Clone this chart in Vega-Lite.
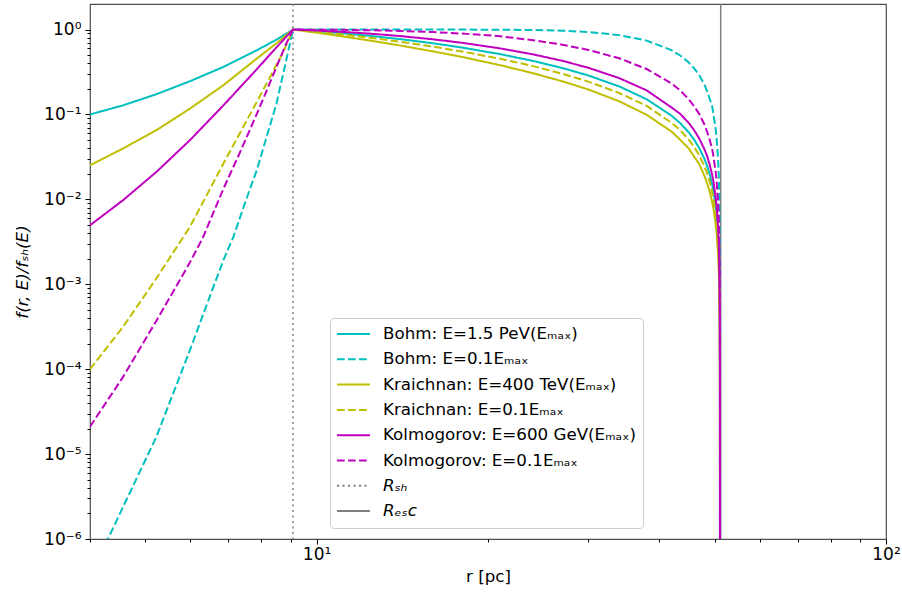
{
  "$schema": "https://vega.github.io/schema/vega-lite/v6.json",
  "width": 796,
  "height": 535,
  "autosize": {"type": "none"},
  "padding": {"left": 90, "top": 4, "right": 16, "bottom": 60},
  "background": "white",
  "config": {
    "font": "DejaVu Sans",
    "view": {"stroke": "#4d4d4d", "strokeWidth": 1.2}
  },
  "datasets": {
    "lines": [
      {"s": "Rsh", "r": 9.09},
      {"s": "Resc", "r": 51.25}
    ],
    "curves": [
      {"s":"B1","r":4,"f":0.1},{"s":"B1","r":4.57,"f":0.128},{"s":"B1","r":5.23,"f":0.173},{"s":"B1","r":5.99,"f":0.246},{"s":"B1","r":6.86,"f":0.363},{"s":"B1","r":7.85,"f":0.57},{"s":"B1","r":8.5,"f":0.76},{"s":"B1","r":9.09,"f":1},
      {"s":"B1","r":10,"f":0.957},{"s":"B1","r":11,"f":0.909},{"s":"B1","r":12.5,"f":0.839},{"s":"B1","r":14,"f":0.772},{"s":"B1","r":16,"f":0.69},{"s":"B1","r":18,"f":0.614},{"s":"B1","r":21,"f":0.514},{"s":"B1","r":24,"f":0.427},{"s":"B1","r":27,"f":0.353},{"s":"B1","r":30,"f":0.288},{"s":"B1","r":34,"f":0.214},{"s":"B1","r":38,"f":0.151},{"s":"B1","r":42,"f":0.097},{"s":"B1","r":43.5,"f":0.0791},{"s":"B1","r":45,"f":0.062},{"s":"B1","r":46,"f":0.0508},{"s":"B1","r":47,"f":0.04},{"s":"B1","r":48,"f":0.0299},{"s":"B1","r":48.5,"f":0.0249},{"s":"B1","r":49,"f":0.0199},{"s":"B1","r":49.5,"f":0.0151},{"s":"B1","r":49.8,"f":0.0122},{"s":"B1","r":50.2,"f":0.0084},{"s":"B1","r":50.4,"f":0.0065},{"s":"B1","r":50.7,"f":0.0037},{"s":"B1","r":50.85,"f":0.0023},{"s":"B1","r":50.95,"f":0.00137},{"s":"B1","r":51.05,"f":0.00046},{"s":"B1","r":51.09,"f":0.000092},{"s":"B1","r":51.0995,"f":0.0000046},{"s":"B1","r":51.1,"f":1e-8},

      {"s":"B2","r":4,"f":3.9e-7},{"s":"B2","r":4.3,"f":1e-6},{"s":"B2","r":4.6,"f":2.6e-6},{"s":"B2","r":5.23,"f":1.59e-5},{"s":"B2","r":5.99,"f":1.67e-4},{"s":"B2","r":6.5,"f":7.3e-4},{"s":"B2","r":6.86,"f":1.92e-3},{"s":"B2","r":7.14,"f":3.6e-3},{"s":"B2","r":7.5,"f":9.4e-3},{"s":"B2","r":7.85,"f":0.022},{"s":"B2","r":8.2,"f":0.059},{"s":"B2","r":8.5,"f":0.134},{"s":"B2","r":8.8,"f":0.373},{"s":"B2","r":9.09,"f":1},
      {"s":"B2","r":10,"f":1},{"s":"B2","r":11,"f":1},{"s":"B2","r":12.5,"f":1},{"s":"B2","r":14,"f":1},{"s":"B2","r":16,"f":0.9997},{"s":"B2","r":18,"f":0.999},{"s":"B2","r":21,"f":0.996},{"s":"B2","r":24,"f":0.988},{"s":"B2","r":27,"f":0.97},{"s":"B2","r":30,"f":0.936},{"s":"B2","r":34,"f":0.86},{"s":"B2","r":38,"f":0.741},{"s":"B2","r":42,"f":0.572},{"s":"B2","r":43.5,"f":0.495},{"s":"B2","r":45,"f":0.412},{"s":"B2","r":46,"f":0.352},{"s":"B2","r":47,"f":0.289},{"s":"B2","r":48,"f":0.223},{"s":"B2","r":48.5,"f":0.189},{"s":"B2","r":49,"f":0.154},{"s":"B2","r":49.5,"f":0.126},{"s":"B2","r":49.8,"f":0.097},{"s":"B2","r":50.2,"f":0.069},{"s":"B2","r":50.4,"f":0.053},{"s":"B2","r":50.7,"f":0.0306},{"s":"B2","r":50.85,"f":0.0193},{"s":"B2","r":50.95,"f":0.0115},{"s":"B2","r":51.05,"f":0.0038},{"s":"B2","r":51.09,"f":0.00077},{"s":"B2","r":51.0995,"f":0.000038},{"s":"B2","r":51.1,"f":1e-8},

      {"s":"K1","r":4,"f":0.0252},{"s":"K1","r":4.57,"f":0.0397},{"s":"K1","r":5.23,"f":0.0652},{"s":"K1","r":5.99,"f":0.117},{"s":"K1","r":6.86,"f":0.221},{"s":"K1","r":7.85,"f":0.455},{"s":"K1","r":8.5,"f":0.687},{"s":"K1","r":9.09,"f":1},
      {"s":"K1","r":10,"f":0.919},{"s":"K1","r":11,"f":0.839},{"s":"K1","r":12.5,"f":0.736},{"s":"K1","r":14,"f":0.65},{"s":"K1","r":16,"f":0.554},{"s":"K1","r":18,"f":0.476},{"s":"K1","r":21,"f":0.381},{"s":"K1","r":24,"f":0.306},{"s":"K1","r":27,"f":0.246},{"s":"K1","r":30,"f":0.197},{"s":"K1","r":34,"f":0.143},{"s":"K1","r":38,"f":0.099},{"s":"K1","r":42,"f":0.063},{"s":"K1","r":43.5,"f":0.0504},{"s":"K1","r":45,"f":0.04},{"s":"K1","r":46,"f":0.0321},{"s":"K1","r":47,"f":0.026},{"s":"K1","r":48,"f":0.0188},{"s":"K1","r":48.5,"f":0.0155},{"s":"K1","r":49,"f":0.0125},{"s":"K1","r":49.5,"f":0.0094},{"s":"K1","r":49.8,"f":0.0076},{"s":"K1","r":50.2,"f":0.0052},{"s":"K1","r":50.4,"f":0.0041},{"s":"K1","r":50.7,"f":0.0023},{"s":"K1","r":50.85,"f":0.00144},{"s":"K1","r":50.95,"f":0.00085},{"s":"K1","r":51.05,"f":0.00028},{"s":"K1","r":51.09,"f":0.000057},{"s":"K1","r":51.0995,"f":0.0000028},{"s":"K1","r":51.1,"f":1e-8},

      {"s":"K2","r":4,"f":1e-4},{"s":"K2","r":4.57,"f":3.14e-4},{"s":"K2","r":5.23,"f":1.17e-3},{"s":"K2","r":5.99,"f":4.73e-3},{"s":"K2","r":6.86,"f":0.0264},{"s":"K2","r":7.85,"f":0.14},{"s":"K2","r":8.3,"f":0.283},{"s":"K2","r":8.74,"f":0.545},{"s":"K2","r":9.09,"f":1},
      {"s":"K2","r":10,"f":0.942},{"s":"K2","r":11,"f":0.88},{"s":"K2","r":12.5,"f":0.796},{"s":"K2","r":14,"f":0.719},{"s":"K2","r":16,"f":0.63},{"s":"K2","r":18,"f":0.552},{"s":"K2","r":21,"f":0.453},{"s":"K2","r":24,"f":0.371},{"s":"K2","r":27,"f":0.302},{"s":"K2","r":30,"f":0.244},{"s":"K2","r":34,"f":0.179},{"s":"K2","r":38,"f":0.126},{"s":"K2","r":42,"f":0.08},{"s":"K2","r":43.5,"f":0.0651},{"s":"K2","r":45,"f":0.051},{"s":"K2","r":46,"f":0.0417},{"s":"K2","r":47,"f":0.033},{"s":"K2","r":48,"f":0.0244},{"s":"K2","r":48.5,"f":0.0203},{"s":"K2","r":49,"f":0.0163},{"s":"K2","r":49.5,"f":0.0123},{"s":"K2","r":49.8,"f":0.0099},{"s":"K2","r":50.2,"f":0.0067},{"s":"K2","r":50.4,"f":0.0053},{"s":"K2","r":50.7,"f":0.003},{"s":"K2","r":50.85,"f":0.00187},{"s":"K2","r":50.95,"f":0.00112},{"s":"K2","r":51.05,"f":0.00037},{"s":"K2","r":51.09,"f":0.000075},{"s":"K2","r":51.0995,"f":0.0000037},{"s":"K2","r":51.1,"f":1e-8},

      {"s":"M1","r":4,"f":0.00495},{"s":"M1","r":4.57,"f":0.00976},{"s":"M1","r":5.23,"f":0.021},{"s":"M1","r":5.99,"f":0.0497},{"s":"M1","r":6.86,"f":0.128},{"s":"M1","r":7.85,"f":0.34},{"s":"M1","r":8.5,"f":0.617},{"s":"M1","r":9.09,"f":1},
      {"s":"M1","r":10,"f":0.974},{"s":"M1","r":11,"f":0.942},{"s":"M1","r":12.5,"f":0.892},{"s":"M1","r":14,"f":0.839},{"s":"M1","r":16,"f":0.768},{"s":"M1","r":18,"f":0.699},{"s":"M1","r":21,"f":0.6},{"s":"M1","r":24,"f":0.51},{"s":"M1","r":27,"f":0.429},{"s":"M1","r":30,"f":0.355},{"s":"M1","r":34,"f":0.268},{"s":"M1","r":38,"f":0.192},{"s":"M1","r":42,"f":0.121},{"s":"M1","r":43.5,"f":0.1018},{"s":"M1","r":45,"f":0.08},{"s":"M1","r":46,"f":0.0658},{"s":"M1","r":47,"f":0.052},{"s":"M1","r":48,"f":0.0388},{"s":"M1","r":48.5,"f":0.0324},{"s":"M1","r":49,"f":0.0259},{"s":"M1","r":49.5,"f":0.0196},{"s":"M1","r":49.8,"f":0.0159},{"s":"M1","r":50.2,"f":0.0108},{"s":"M1","r":50.4,"f":0.0085},{"s":"M1","r":50.7,"f":0.0048},{"s":"M1","r":50.85,"f":0.003},{"s":"M1","r":50.95,"f":0.0018},{"s":"M1","r":51.05,"f":0.0006},{"s":"M1","r":51.09,"f":0.00012},{"s":"M1","r":51.0995,"f":0.000006},{"s":"M1","r":51.1,"f":1e-8},

      {"s":"M2","r":4,"f":2.1e-5},{"s":"M2","r":4.57,"f":8.07e-5},{"s":"M2","r":5.23,"f":3.7e-4},{"s":"M2","r":5.99,"f":1.8e-3},{"s":"M2","r":6.32,"f":3.6e-3},{"s":"M2","r":6.86,"f":0.0133},{"s":"M2","r":7.33,"f":0.0353},{"s":"M2","r":7.85,"f":0.101},{"s":"M2","r":8.17,"f":0.19},{"s":"M2","r":8.5,"f":0.361},{"s":"M2","r":8.86,"f":0.7},{"s":"M2","r":9.09,"f":1},
      {"s":"M2","r":10,"f":0.997},{"s":"M2","r":11,"f":0.992},{"s":"M2","r":12.5,"f":0.98},{"s":"M2","r":14,"f":0.963},{"s":"M2","r":16,"f":0.934},{"s":"M2","r":18,"f":0.896},{"s":"M2","r":21,"f":0.835},{"s":"M2","r":24,"f":0.749},{"s":"M2","r":27,"f":0.664},{"s":"M2","r":30,"f":0.576},{"s":"M2","r":34,"f":0.459},{"s":"M2","r":38,"f":0.343},{"s":"M2","r":42,"f":0.232},{"s":"M2","r":43.5,"f":0.192},{"s":"M2","r":45,"f":0.152},{"s":"M2","r":46,"f":0.126},{"s":"M2","r":47,"f":0.101},{"s":"M2","r":48,"f":0.0757},{"s":"M2","r":48.5,"f":0.063},{"s":"M2","r":49,"f":0.0509},{"s":"M2","r":49.5,"f":0.0395},{"s":"M2","r":49.8,"f":0.0313},{"s":"M2","r":50.2,"f":0.0214},{"s":"M2","r":50.4,"f":0.0168},{"s":"M2","r":50.7,"f":0.0095},{"s":"M2","r":50.85,"f":0.006},{"s":"M2","r":50.95,"f":0.0036},{"s":"M2","r":51.05,"f":0.0012},{"s":"M2","r":51.09,"f":0.00024},{"s":"M2","r":51.0995,"f":0.000012},{"s":"M2","r":51.1,"f":1e-8}
    ]
  },
  "layer": [
    {
      "data": {"name": "lines"},
      "mark": {"type": "rule", "strokeWidth": 1.5},
      "encoding": {
        "x": {
          "field": "r", "type": "quantitative",
          "scale": {"type": "log", "domain": [4, 100], "nice": false},
          "axis": {
            "values": [4,5,6,7,8,9,10,20,30,40,50,60,70,80,90,100],
            "labelExpr": "abs(log(datum.value)/LN10 - round(log(datum.value)/LN10)) < 0.01 ? '10' + ['⁰','¹','²','³'][round(log(datum.value)/LN10)] : ''",
            "tickSize": {"condition": {"test": "abs(log(datum.value)/LN10 - round(log(datum.value)/LN10)) < 0.01", "value": 5}, "value": 3},
            "tickColor": "black", "tickWidth": 1,
            "labelFontSize": 17, "labelColor": "black", "labelPadding": 2,
            "labelOverlap": false, "labelFlush": false, "labelBound": false,
            "grid": false, "domain": false,
            "title": "r [pc]", "titleFontSize": 16.7, "titleFontWeight": "normal", "titleColor": "black", "titlePadding": 6
          }
        },
        "color": {
          "field": "s", "type": "nominal",
          "scale": {"domain": ["B1","B2","K1","K2","M1","M2","Rsh","Resc"], "range": ["#00bfbf","#00bfbf","#bfbf00","#bfbf00","#bf00bf","#bf00bf","#808080","#808080"]},
          "legend": {
            "title": null, "orient": "none", "legendX": 240, "legendY": 314,
            "symbolType": "stroke", "symbolSize": 1089, "symbolStrokeWidth": 2,
            "clipHeight": 20, "rowPadding": 5.3, "padding": 6, "labelOffset": 12,
            "labelFontSize": 16.7, "labelFont": "DejaVu Sans", "labelColor": "black", "labelLimit": 500,
            "fillColor": "white", "strokeColor": "#cccccc", "cornerRadius": 4,
            "labelExpr": "{'B1':'Bohm: E=1.5 PeV(Eₘₐₓ)','B2':'Bohm: E=0.1Eₘₐₓ','K1':'Kraichnan: E=400 TeV(Eₘₐₓ)','K2':'Kraichnan: E=0.1Eₘₐₓ','M1':'Kolmogorov: E=600 GeV(Eₘₐₓ)','M2':'Kolmogorov: E=0.1Eₘₐₓ','Rsh':'Rₛₕ','Resc':'Rₑₛc'}[datum.label]",
            "encode": {"labels": {"update": {"fontStyle": {"signal": "(datum.value == 'Rsh' || datum.value == 'Resc') ? 'italic' : 'normal'"}}}}
          }
        },
        "strokeDash": {
          "field": "s", "type": "nominal",
          "scale": {"domain": ["B1","B2","K1","K2","M1","M2","Rsh","Resc"], "range": [[1,0],[7.7,3.3],[1,0],[7.7,3.3],[1,0],[7.7,3.3],[2.1,3.4],[1,0]]},
          "legend": {
            "title": null, "orient": "none", "legendX": 240, "legendY": 314,
            "symbolType": "stroke", "symbolSize": 1089, "symbolStrokeWidth": 2,
            "clipHeight": 20, "rowPadding": 5.3, "padding": 6, "labelOffset": 12,
            "labelFontSize": 16.7, "labelFont": "DejaVu Sans", "labelColor": "black", "labelLimit": 500,
            "fillColor": "white", "strokeColor": "#cccccc", "cornerRadius": 4,
            "labelExpr": "{'B1':'Bohm: E=1.5 PeV(Eₘₐₓ)','B2':'Bohm: E=0.1Eₘₐₓ','K1':'Kraichnan: E=400 TeV(Eₘₐₓ)','K2':'Kraichnan: E=0.1Eₘₐₓ','M1':'Kolmogorov: E=600 GeV(Eₘₐₓ)','M2':'Kolmogorov: E=0.1Eₘₐₓ','Rsh':'Rₛₕ','Resc':'Rₑₛc'}[datum.label]",
            "encode": {"labels": {"update": {"fontStyle": {"signal": "(datum.value == 'Rsh' || datum.value == 'Resc') ? 'italic' : 'normal'"}}}}
          }
        }
      }
    },
    {
      "data": {"name": "curves"},
      "mark": {"type": "line", "strokeWidth": 2, "clip": true},
      "encoding": {
        "x": {"field": "r", "type": "quantitative"},
        "y": {
          "field": "f", "type": "quantitative",
          "scale": {"type": "log", "domain": [1e-6, 2], "nice": false},
          "axis": {
            "values": [1e-6,2e-6,3e-6,4e-6,5e-6,6e-6,7e-6,8e-6,9e-6,1e-5,2e-5,3e-5,4e-5,5e-5,6e-5,7e-5,8e-5,9e-5,1e-4,2e-4,3e-4,4e-4,5e-4,6e-4,7e-4,8e-4,9e-4,1e-3,2e-3,3e-3,4e-3,5e-3,6e-3,7e-3,8e-3,9e-3,0.01,0.02,0.03,0.04,0.05,0.06,0.07,0.08,0.09,0.1,0.2,0.3,0.4,0.5,0.6,0.7,0.8,0.9,1],
            "labelExpr": "abs(log(datum.value)/LN10 - round(log(datum.value)/LN10)) < 0.01 ? '10' + ['⁻⁶','⁻⁵','⁻⁴','⁻³','⁻²','⁻¹','⁰'][round(log(datum.value)/LN10) + 6] : ''",
            "tickSize": {"condition": {"test": "abs(log(datum.value)/LN10 - round(log(datum.value)/LN10)) < 0.01", "value": 5}, "value": 3},
            "tickColor": "black", "tickWidth": 1,
            "labelFontSize": 17, "labelColor": "black", "labelPadding": 4,
            "labelOverlap": false, "labelFlush": false, "labelBound": false,
            "grid": false, "domain": false,
            "title": "f(r, E)/fₛₕ(E)", "titleFontSize": 16.7, "titleFontWeight": "normal", "titleFontStyle": "italic", "titleColor": "black", "titlePadding": 12
          }
        },
        "color": {"field": "s", "type": "nominal"},
        "strokeDash": {"field": "s", "type": "nominal"}
      }
    }
  ]
}
